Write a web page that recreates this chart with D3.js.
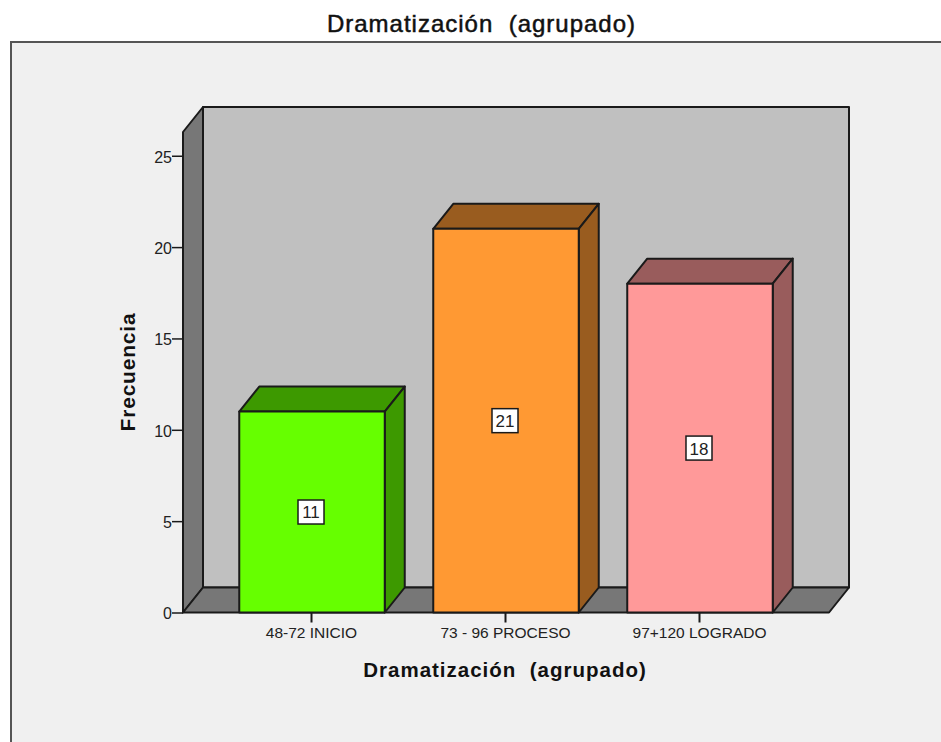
<!DOCTYPE html>
<html>
<head>
<meta charset="utf-8">
<script src="https://cdn.jsdelivr.net/npm/d3@7"></script>
<style>
    html, body { margin: 0; padding: 0; background: #fff; }
    svg { display: block; }
    text { white-space: pre; }
    .axis text { font-family: "Liberation Sans", Arial, sans-serif; fill: #222; }
    .title { font-family: "Liberation Sans", Arial, sans-serif; fill: #111; }
</style>
</head>
<body>
<div id="chart"></div>
<script>
var categories = ['48-72 INICIO', '73 - 96 PROCESO', '97+120 LOGRADO']
var frequencies = [11, 21, 18]
var frontColors = ['#66ff00', '#ff9933', '#ff9999']
var sideColors = ['#3d9900', '#995c1f', '#995c5c']
var yTicks = [0, 5, 10, 15, 20, 25]
var chartTitle = 'Dramatización  (agrupado)'
var yTitle = 'Frecuencia'

var width = 941,
    height = 742,
    depth = { x: 20, y: -25 },
    line = '#1a1a1a';

var svg = d3.select('#chart')
    .append('svg')
    .attr('width', width)
    .attr('height', height);

// chart panel
svg.append('rect')
    .attr('x', 11).attr('y', 42)
    .attr('width', width).attr('height', height)
    .attr('fill', '#f0f0f0')
    .attr('stroke', '#555')
    .attr('stroke-width', 2);

var xScale = d3.scaleBand()
    .domain(categories)
    .range([183, 829])
    .paddingInner(0.25)
    .paddingOuter(0.29);

var yScale = d3.scaleLinear().domain([0, 26.3]).range([612.5, 132]);

var x0 = xScale.range()[0], x1 = xScale.range()[1];
var y0 = yScale(0), yTop = yScale.range()[1];

function poly(points, fill) {
    svg.append('polygon')
        .attr('points', points.map(p => p.join(',')).join(' '))
        .attr('fill', fill)
        .attr('stroke', line)
        .attr('stroke-width', 2)
        .attr('stroke-linejoin', 'round');
}

// back wall, left wall, floor
poly([[x0 + depth.x, yTop + depth.y], [x1 + depth.x, yTop + depth.y], [x1 + depth.x, y0 + depth.y], [x0 + depth.x, y0 + depth.y]], '#c0c0c0');
poly([[x0, yTop], [x0 + depth.x, yTop + depth.y], [x0 + depth.x, y0 + depth.y], [x0, y0]], '#777777');
poly([[x0, y0], [x0 + depth.x, y0 + depth.y], [x1 + depth.x, y0 + depth.y], [x1, y0]], '#777777');

// bars
categories.forEach(function (c, i) {
    var left = xScale(c),
        right = left + xScale.bandwidth(),
        top = yScale(frequencies[i]);
    poly([[left, top], [left + depth.x, top + depth.y], [right + depth.x, top + depth.y], [right, top]], sideColors[i]);
    poly([[right, top], [right + depth.x, top + depth.y], [right + depth.x, y0 + depth.y], [right, y0]], sideColors[i]);
    poly([[left, top], [right, top], [right, y0], [left, y0]], frontColors[i]);
});

// axes
var yAxis = d3.axisLeft(yScale).tickValues(yTicks).tickSize(11).tickPadding(0).tickSizeOuter(0);
var xAxis = d3.axisBottom(xScale).tickSize(10).tickPadding(4).tickSizeOuter(0);

var gy = svg.append('g').attr('class', 'axis').attr('transform', `translate(${x0},0)`).call(yAxis);
gy.select('.domain').remove();
gy.selectAll('text').style('font-size', '16px').attr('dy', '0.4em');
gy.selectAll('line').attr('stroke', line).attr('stroke-width', 1.5);

var gx = svg.append('g').attr('class', 'axis').attr('transform', `translate(-0.5,${y0})`).call(xAxis);
gx.select('.domain').remove();
gx.selectAll('text').style('font-size', '15.5px');
gx.selectAll('line').attr('stroke', line).attr('stroke-width', 2);

// value labels
var labels = svg.selectAll('.val')
    .data(frequencies)
    .enter().append('g')
    .attr('class', 'val axis')
    .attr('transform', (d, i) => `translate(${xScale(categories[i]) + xScale.bandwidth() / 2 - 1},${yScale(d / 2)})`);

labels.append('rect')
    .attr('x', -13).attr('y', -12)
    .attr('width', 26).attr('height', 24)
    .attr('fill', '#fff')
    .attr('stroke', line)
    .attr('stroke-width', 1.5);

labels.append('text')
    .attr('text-anchor', 'middle')
    .attr('dy', '0.38em')
    .style('font-size', '17px')
    .text(d => d);

// titles
svg.append('text').attr('class', 'title')
    .attr('x', 481.5).attr('y', 32)
    .attr('text-anchor', 'middle')
    .attr('stroke', '#111')
    .attr('stroke-width', 0.5)
    .style('font-size', '24px')
    .style('letter-spacing', '1px')
    .text(chartTitle);

svg.append('text').attr('class', 'title')
    .attr('x', 505).attr('y', 677)
    .attr('text-anchor', 'middle')
    .style('font-weight', 'bold')
    .style('font-size', '20.5px')
    .style('letter-spacing', '1px')
    .text(chartTitle);

svg.append('text').attr('class', 'title')
    .attr('transform', 'translate(135,372) rotate(-90)')
    .attr('text-anchor', 'middle')
    .style('font-weight', 'bold')
    .style('font-size', '21px')
    .style('letter-spacing', '0.8px')
    .text(yTitle);
</script>
</body>
</html>
